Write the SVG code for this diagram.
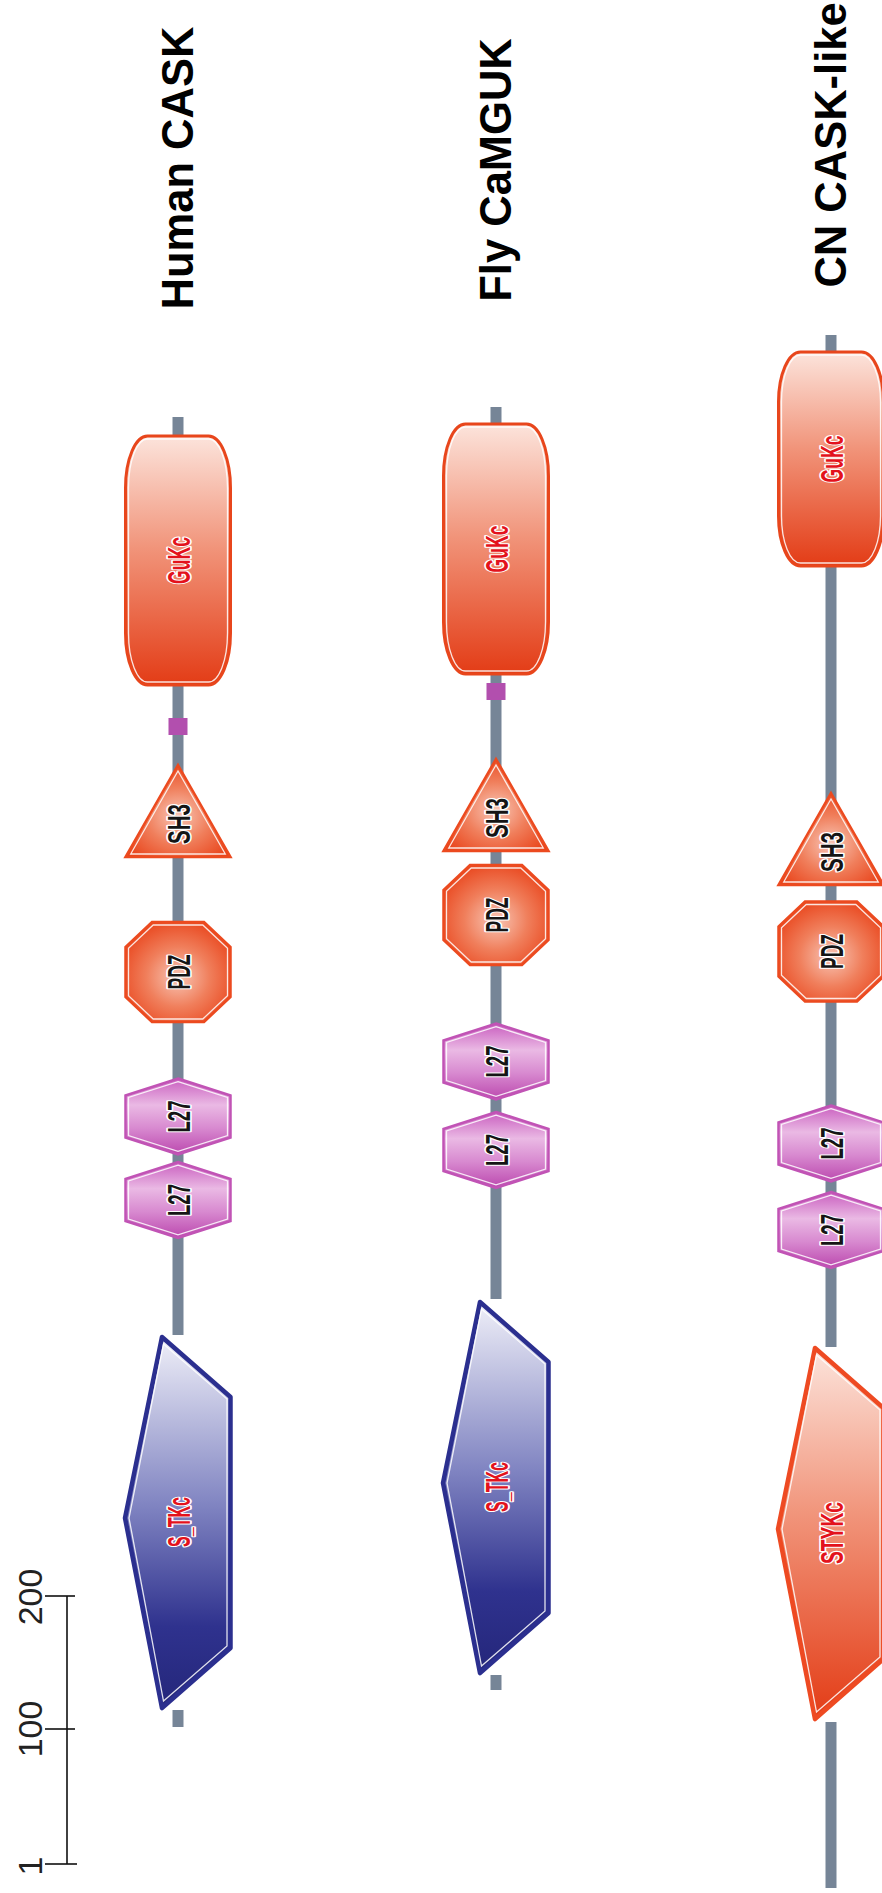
<svg xmlns="http://www.w3.org/2000/svg" xmlns:xlink="http://www.w3.org/1999/xlink" width="882" height="1893" viewBox="0 0 882 1893">
<style>
.bb{stroke:#768597;stroke-width:11;fill:none}
.title{font-family:"Liberation Sans",Arial,sans-serif;font-weight:bold;font-size:43.5px;fill:#000;text-anchor:middle}
.sc{font-family:"Liberation Sans",Arial,sans-serif;font-size:34px;fill:#222;text-anchor:middle}
.tick{stroke:#111;stroke-width:1.6;fill:none}
.lbl{font-family:"Liberation Sans",Arial,sans-serif;font-weight:bold;font-size:32px;text-anchor:middle;paint-order:stroke;stroke:#fff;stroke-width:3.5;stroke-linejoin:round}
.rt{fill:#e3121c}
.bt{fill:#151515}
.gukc{fill:url(#gRedV);stroke:#e8461c;stroke-width:3}
.redd{fill:url(#gRedR);stroke:#ec4a1f;stroke-width:2.5}
.l27{fill:url(#gPink);stroke:#c153b5;stroke-width:2.5}
.stk{fill:url(#gBlue);stroke:#2b2f8f;stroke-width:4.5;stroke-linejoin:round}
.sty{fill:url(#gRedV);stroke:#ee4a22;stroke-width:4.5;stroke-linejoin:round}
.hl{fill:none;stroke:#fff;stroke-width:1.3;opacity:0.85}
.sq{fill:#b24fae}
</style>
<defs>
<linearGradient id="gRedV" x1="0" y1="0" x2="0" y2="1">
<stop offset="0" stop-color="#fce4dc"/>
<stop offset="0.45" stop-color="#f1947a"/>
<stop offset="1" stop-color="#e33c16"/>
</linearGradient>
<radialGradient id="gRedR" cx="0.5" cy="0.55" r="0.6">
<stop offset="0" stop-color="#f8c6b6"/>
<stop offset="0.5" stop-color="#f07f5c"/>
<stop offset="1" stop-color="#e9451c"/>
</radialGradient>
<linearGradient id="gPink" x1="0" y1="0" x2="0" y2="1">
<stop offset="0" stop-color="#c95ebf"/>
<stop offset="0.35" stop-color="#eab9e4"/>
<stop offset="0.65" stop-color="#d88ad0"/>
<stop offset="1" stop-color="#bb48ae"/>
</linearGradient>
<linearGradient id="gBlue" x1="0" y1="0" x2="0" y2="1">
<stop offset="0" stop-color="#efeff8"/>
<stop offset="0.45" stop-color="#8185c2"/>
<stop offset="0.78" stop-color="#2f328e"/>
<stop offset="1" stop-color="#24267a"/>
</linearGradient>
<polygon id="sh3" points="0,0 52.5,92 -52.5,92"/>
<polygon id="sh3i" points="0,6 47.3,89 -47.3,89"/>
<polygon id="pdz" points="-26,-50 26,-50 52.5,-25 52.5,25 26,50 -26,50 -52.5,25 -52.5,-25"/>
<polygon id="pdzi" points="-24.8,-47 24.8,-47 49.5,-23.8 49.5,23.8 24.8,47 -24.8,47 -49.5,23.8 -49.5,-23.8"/>
<polygon id="l27" points="0,-38 52.5,-21 52.5,21 0,38 -52.5,21 -52.5,-21"/>
<polygon id="l27i" points="0,-34.8 49.5,-19 49.5,19 0,34.8 -49.5,19 -49.5,-19"/>
<polygon id="kin" points="-16,0 52.5,60 52.5,311 -16,371 -53,181"/>
<polygon id="kini" points="-14.5,7 49,62 49,309 -14.5,364 -49,181"/>
</defs>
<rect width="882" height="1893" fill="#fff"/>

<g id="connectors">
<line class="bb" x1="178" y1="417" x2="178" y2="1335"/>
<line class="bb" x1="178" y1="1710" x2="178" y2="1727"/>
<line class="bb" x1="496" y1="407" x2="496" y2="1299"/>
<line class="bb" x1="496" y1="1675" x2="496" y2="1690"/>
<line class="bb" x1="831" y1="335" x2="831" y2="1347"/>
<line class="bb" x1="831" y1="1722" x2="831" y2="1888"/>
</g>

<g id="titles">
<text class="title" transform="translate(193,168) rotate(-90)">Human CASK</text>
<text class="title" transform="translate(511,170) rotate(-90)">Fly CaMGUK</text>
<text class="title" transform="translate(846,145) rotate(-90)">CN CASK-like</text>
</g>

<g id="scale-bar">
<line class="tick" x1="67" y1="1596" x2="67" y2="1864"/>
<line class="tick" x1="45" y1="1596" x2="75" y2="1596"/>
<line class="tick" x1="45" y1="1729" x2="75" y2="1729"/>
<line class="tick" x1="45" y1="1864" x2="77" y2="1864"/>
<text class="sc" transform="translate(42,1597) rotate(-90)">200</text>
<text class="sc" transform="translate(42,1729) rotate(-90)">100</text>
<text class="sc" transform="translate(42,1866) rotate(-90)">1</text>
</g>

<!-- Human CASK -->
<g id="human-gukc">
<rect class="gukc" x="125.5" y="436" width="105" height="249" rx="22" ry="52"/>
<rect class="hl" x="128.5" y="439" width="99" height="243" rx="19" ry="49"/>
<text class="lbl rt" transform="translate(189.5,560.5) rotate(-90)" textLength="47" lengthAdjust="spacingAndGlyphs">GuKc</text>
</g>
<g id="human-motif"><rect class="sq" x="168.5" y="718" width="19" height="17"/></g>
<g id="human-sh3">
<use href="#sh3" class="redd" transform="translate(178,765)"/>
<use href="#sh3i" class="hl" transform="translate(178,765)"/>
<text class="lbl bt" transform="translate(189.5,824) rotate(-90)" textLength="40" lengthAdjust="spacingAndGlyphs">SH3</text>
</g>
<g id="human-pdz">
<use href="#pdz" class="redd" transform="translate(178,972)"/>
<use href="#pdzi" class="hl" transform="translate(178,972)"/>
<text class="lbl bt" transform="translate(189.5,972) rotate(-90)" textLength="35" lengthAdjust="spacingAndGlyphs">PDZ</text>
</g>
<g id="human-l27-1">
<use href="#l27" class="l27" transform="translate(178,1116.5)"/>
<use href="#l27i" class="hl" transform="translate(178,1116.5)"/>
<text class="lbl bt" transform="translate(189.5,1116.5) rotate(-90)" textLength="32" lengthAdjust="spacingAndGlyphs">L27</text>
</g>
<g id="human-l27-2">
<use href="#l27" class="l27" transform="translate(178,1200)"/>
<use href="#l27i" class="hl" transform="translate(178,1200)"/>
<text class="lbl bt" transform="translate(189.5,1200) rotate(-90)" textLength="32" lengthAdjust="spacingAndGlyphs">L27</text>
</g>
<g id="human-stkc">
<use href="#kin" class="stk" transform="translate(178,1337)"/>
<use href="#kini" class="hl" transform="translate(178,1337)"/>
<text class="lbl rt" transform="translate(189.5,1522) rotate(-90)" textLength="50" lengthAdjust="spacingAndGlyphs">S_TKc</text>
</g>

<!-- Fly CaMGUK -->
<g id="fly-gukc">
<rect class="gukc" x="443.5" y="424" width="105" height="250" rx="22" ry="52"/>
<rect class="hl" x="446.5" y="427" width="99" height="244" rx="19" ry="49"/>
<text class="lbl rt" transform="translate(507.5,549) rotate(-90)" textLength="47" lengthAdjust="spacingAndGlyphs">GuKc</text>
</g>
<g id="fly-motif"><rect class="sq" x="486.5" y="683" width="19" height="17"/></g>
<g id="fly-sh3">
<use href="#sh3" class="redd" transform="translate(496,759)"/>
<use href="#sh3i" class="hl" transform="translate(496,759)"/>
<text class="lbl bt" transform="translate(507.5,818) rotate(-90)" textLength="40" lengthAdjust="spacingAndGlyphs">SH3</text>
</g>
<g id="fly-pdz">
<use href="#pdz" class="redd" transform="translate(496,915)"/>
<use href="#pdzi" class="hl" transform="translate(496,915)"/>
<text class="lbl bt" transform="translate(507.5,915) rotate(-90)" textLength="35" lengthAdjust="spacingAndGlyphs">PDZ</text>
</g>
<g id="fly-l27-1">
<use href="#l27" class="l27" transform="translate(496,1061.5)"/>
<use href="#l27i" class="hl" transform="translate(496,1061.5)"/>
<text class="lbl bt" transform="translate(507.5,1061.5) rotate(-90)" textLength="32" lengthAdjust="spacingAndGlyphs">L27</text>
</g>
<g id="fly-l27-2">
<use href="#l27" class="l27" transform="translate(496,1150)"/>
<use href="#l27i" class="hl" transform="translate(496,1150)"/>
<text class="lbl bt" transform="translate(507.5,1150) rotate(-90)" textLength="32" lengthAdjust="spacingAndGlyphs">L27</text>
</g>
<g id="fly-stkc">
<use href="#kin" class="stk" transform="translate(496,1302)"/>
<use href="#kini" class="hl" transform="translate(496,1302)"/>
<text class="lbl rt" transform="translate(507.5,1487) rotate(-90)" textLength="50" lengthAdjust="spacingAndGlyphs">S_TKc</text>
</g>

<!-- CN CASK-like -->
<g id="cn-gukc">
<rect class="gukc" x="778.5" y="352" width="105" height="214" rx="22" ry="50"/>
<rect class="hl" x="781.5" y="355" width="99" height="208" rx="19" ry="47"/>
<text class="lbl rt" transform="translate(842.5,459) rotate(-90)" textLength="47" lengthAdjust="spacingAndGlyphs">GuKc</text>
</g>
<g id="cn-sh3">
<use href="#sh3" class="redd" transform="translate(831,793)"/>
<use href="#sh3i" class="hl" transform="translate(831,793)"/>
<text class="lbl bt" transform="translate(842.5,852) rotate(-90)" textLength="40" lengthAdjust="spacingAndGlyphs">SH3</text>
</g>
<g id="cn-pdz">
<use href="#pdz" class="redd" transform="translate(831,951.5)"/>
<use href="#pdzi" class="hl" transform="translate(831,951.5)"/>
<text class="lbl bt" transform="translate(842.5,951.5) rotate(-90)" textLength="35" lengthAdjust="spacingAndGlyphs">PDZ</text>
</g>
<g id="cn-l27-1">
<use href="#l27" class="l27" transform="translate(831,1143.5)"/>
<use href="#l27i" class="hl" transform="translate(831,1143.5)"/>
<text class="lbl bt" transform="translate(842.5,1143.5) rotate(-90)" textLength="32" lengthAdjust="spacingAndGlyphs">L27</text>
</g>
<g id="cn-l27-2">
<use href="#l27" class="l27" transform="translate(831,1230)"/>
<use href="#l27i" class="hl" transform="translate(831,1230)"/>
<text class="lbl bt" transform="translate(842.5,1230) rotate(-90)" textLength="32" lengthAdjust="spacingAndGlyphs">L27</text>
</g>
<g id="cn-stykc">
<use href="#kin" class="sty" transform="translate(831,1348)"/>
<use href="#kini" class="hl" transform="translate(831,1348)"/>
<text class="lbl rt" transform="translate(842.5,1533) rotate(-90)" textLength="62" lengthAdjust="spacingAndGlyphs">STYKc</text>
</g>
</svg>
